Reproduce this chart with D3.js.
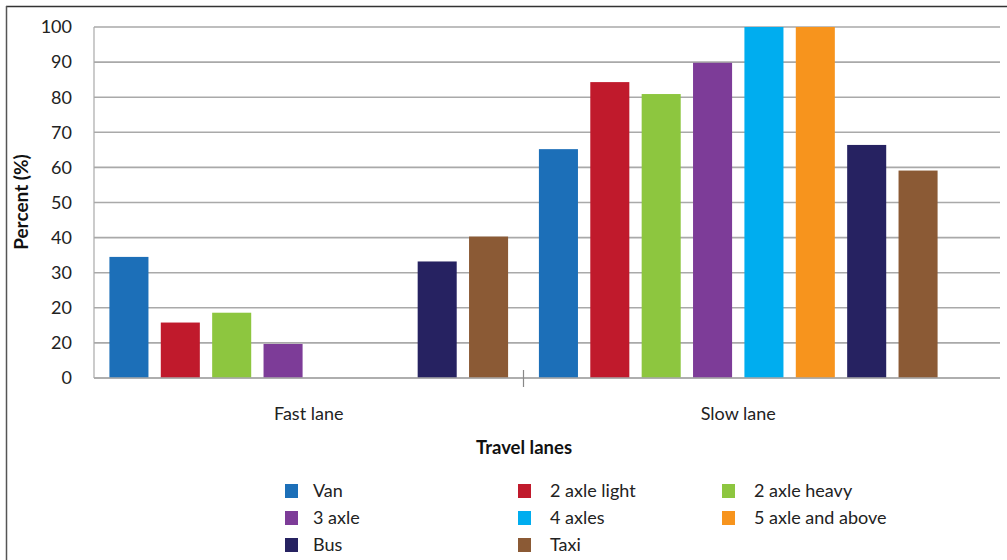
<!DOCTYPE html>
<html>
<head>
<meta charset="utf-8">
<script src="https://cdn.jsdelivr.net/npm/d3@7"></script>
<style>
  html, body { margin: 0; padding: 0; background: #fff; }
  svg { display: block; font-family: Lato, "Open Sans", sans-serif; }
</style>
</head>
<body>
<svg id="chart" width="1007" height="560"></svg>
<script>
// ---- data ----
const categories = ["Fast lane", "Slow lane"];
const seriesNames = ["Van", "2 axle light", "2 axle heavy", "3 axle", "4 axles", "5 axle and above", "Bus", "Taxi"];
const fastLane = [34.5, 15.8, 18.6, 9.7, 0, 0, 33.2, 40.3];
const slowLane = [65.2, 84.3, 80.9, 89.8, 100, 100, 66.4, 59.1];
const seriesColors = ["#1c6fb8", "#c01a2c", "#8dc63f", "#7d3c98", "#00adef", "#f7941d", "#262261", "#8b5a35"];
const yTickValues = [0, 10, 20, 30, 40, 50, 60, 70, 80, 90, 100];
const yTickLabels = ["0", "20", "20", "30", "40", "50", "60", "70", "80", "90", "100"];
const yTitle = "Percent (%)";
const xTitle = "Travel lanes";

const values = [fastLane, slowLane];

const svg = d3.select("#chart");

// frame
svg.append("line").attr("x1", 6).attr("x2", 1007).attr("y1", 6.5).attr("y2", 6.5)
  .attr("stroke", "#333").attr("stroke-width", 1.5);
svg.append("line").attr("x1", 6.5).attr("x2", 6.5).attr("y1", 6).attr("y2", 560)
  .attr("stroke", "#555").attr("stroke-width", 1.5);

const plotLeft = 94, plotRight = 1000, bandRight = 953;
const y = d3.scaleLinear().domain([0, 100]).range([378, 27]);
const x0 = d3.scaleBand().domain(categories).range([plotLeft, bandRight]).paddingInner(0).paddingOuter(0);
const x1 = d3.scaleBand().domain(seriesNames).range([0, x0.bandwidth()]).paddingInner(0.24).paddingOuter(0.3);

// gridlines
svg.append("g").selectAll("line").data(yTickValues).join("line")
  .attr("x1", plotLeft).attr("x2", plotRight)
  .attr("y1", d => y(d)).attr("y2", d => y(d))
  .attr("stroke", "#a9a9a9").attr("stroke-width", 1.6);

// y axis line
svg.append("line").attr("x1", plotLeft).attr("x2", plotLeft).attr("y1", y(100)).attr("y2", y(0))
  .attr("stroke", "#a9a9a9").attr("stroke-width", 1.2);

// y tick labels
svg.append("g").selectAll("text").data(yTickValues).join("text")
  .attr("x", 72).attr("y", d => y(d)).attr("dy", "0.35em")
  .attr("text-anchor", "end").attr("font-size", 18).attr("fill", "#222")
  .text((d, i) => yTickLabels[i]);

// bars
const groups = svg.append("g").selectAll("g").data(categories).join("g")
  .attr("transform", d => `translate(${x0(d)},0)`);
groups.selectAll("rect").data((c, ci) => seriesNames.map((s, si) => ({ s, si, v: values[ci][si] })))
  .join("rect")
  .attr("x", d => x1(d.s))
  .attr("width", x1.bandwidth())
  .attr("y", d => y(d.v))
  .attr("height", d => y(0) - y(d.v))
  .attr("fill", d => seriesColors[d.si]);

// x axis line
svg.append("line").attr("x1", plotLeft).attr("x2", plotRight).attr("y1", y(0)).attr("y2", y(0))
  .attr("stroke", "#a9a9a9").attr("stroke-width", 1.6);
// category separator tick
svg.append("line").attr("x1", x0("Slow lane")).attr("x2", x0("Slow lane"))
  .attr("y1", y(0) - 8).attr("y2", y(0) + 9)
  .attr("stroke", "#888").attr("stroke-width", 1.2);

// category labels
svg.append("g").selectAll("text").data(categories).join("text")
  .attr("x", d => x0(d) + x0.bandwidth() / 2).attr("y", 420)
  .attr("text-anchor", "middle").attr("font-size", 18).attr("fill", "#222")
  .text(d => d);

// axis titles
svg.append("text").attr("x", 524).attr("y", 454).attr("text-anchor", "middle")
  .attr("font-size", 18.5).attr("font-weight", "bold").attr("fill", "#111").text(xTitle);
svg.append("text").attr("transform", "translate(28,202) rotate(-90)").attr("text-anchor", "middle")
  .attr("font-size", 19).attr("font-weight", "bold").attr("fill", "#111").text(yTitle);

// legend
const legendCols = [285, 518, 722];
const legendRows = [491, 518, 545];
const legend = svg.append("g").selectAll("g").data(seriesNames).join("g")
  .attr("transform", (d, i) => `translate(${legendCols[i % 3]},${legendRows[Math.floor(i / 3)]})`);
legend.append("rect").attr("x", 0).attr("y", -7).attr("width", 13).attr("height", 14)
  .attr("fill", (d, i) => seriesColors[i]);
legend.append("text").attr("x", (d, i) => (i % 3 === 0 ? 28 : 32)).attr("y", 0).attr("dy", "0.35em")
  .attr("font-size", 18).attr("fill", "#222").text(d => d);
</script>
</body>
</html>
